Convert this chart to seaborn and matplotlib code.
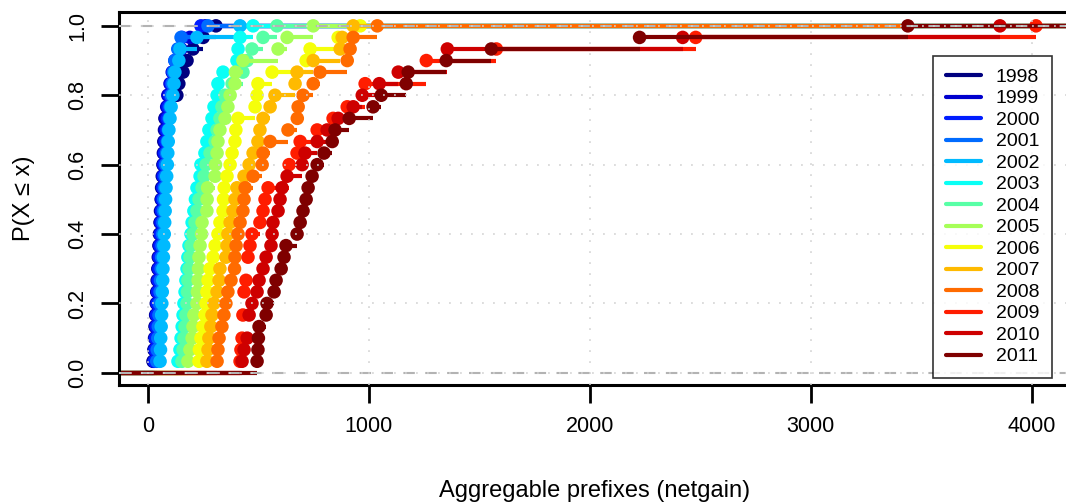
import numpy as np
import pandas as pd
import seaborn as sns
import matplotlib.pyplot as plt
from matplotlib.lines import Line2D

# years and jet-like colours (R colorRampPalette, 14 steps)
years = ['1998', '1999', '2000', '2001', '2002', '2003', '2004',
         '2005', '2006', '2007', '2008', '2009', '2010', '2011']
colors = ['#00007F', '#0000CE', '#001DFF', '#006BFF', '#00BAFF', '#0AFFF5', '#58FFA6',
          '#A6FF58', '#F5FF0A', '#FFBA00', '#FF6B00', '#FF1D00', '#CE0000', '#7F0000']

# aggregable prefixes per sample (30 samples per year)
netgain_1998 = [23, 27, 30, 32, 35, 38, 40, 42, 45, 47, 50, 52, 55, 57, 60,
                62, 65, 68, 70, 72, 75, 77, 95, 131, 140, 159, 177, 204, 250, 308]
netgain_1999 = [27, 30, 32, 35, 37, 40, 42, 45, 47, 50, 52, 55, 57, 60, 62,
                65, 68, 70, 72, 75, 78, 80, 85, 90, 100, 110, 125, 150, 190, 260]
netgain_2000 = [30, 33, 35, 38, 40, 43, 45, 47, 50, 52, 55, 57, 60, 62, 65,
                68, 70, 73, 76, 80, 84, 88, 92, 98, 105, 113, 122, 140, 154, 240]
netgain_2001 = [40, 42, 45, 47, 50, 52, 55, 57, 60, 62, 64, 66, 68, 70, 72,
                75, 78, 80, 84, 88, 92, 96, 100, 105, 110, 115, 122, 135, 150, 272]
netgain_2002 = [55, 57, 58, 60, 62, 63, 65, 67, 68, 70, 72, 74, 76, 78, 80,
                82, 85, 88, 90, 92, 95, 100, 105, 113, 118, 122, 140, 145, 222, 417]
netgain_2003 = [136, 145, 150, 155, 159, 163, 168, 172, 177, 181, 186, 195, 200, 208, 215,
                222, 236, 240, 258, 267, 276, 290, 299, 313, 317, 340, 403, 408, 417, 476]
netgain_2004 = [154, 159, 163, 168, 172, 177, 179, 181, 186, 190, 195, 204, 213, 222, 231,
                245, 254, 263, 281, 304, 313, 326, 335, 349, 381, 430, 449, 471, 521, 584]
netgain_2005 = [181, 190, 200, 204, 208, 222, 224, 227, 229, 231, 236, 243, 245, 267, 268,
                270, 304, 306, 313, 317, 326, 349, 362, 372, 394, 396, 430, 589, 630, 748]
netgain_2006 = [231, 233, 240, 249, 258, 263, 267, 272, 281, 295, 304, 317, 326, 340, 342,
                345, 358, 372, 381, 394, 398, 408, 485, 494, 498, 562, 716, 734, 861, 961]
netgain_2007 = [267, 272, 276, 285, 290, 299, 313, 322, 326, 353, 358, 362, 372, 385, 394,
                403, 435, 458, 476, 498, 507, 521, 553, 575, 666, 675, 748, 870, 879, 929]
netgain_2008 = [313, 317, 322, 335, 344, 353, 362, 376, 392, 394, 399, 408, 417, 430, 435,
                440, 476, 517, 521, 553, 634, 676, 680, 702, 748, 779, 902, 915, 929, 1038]
netgain_2009 = [417, 421, 426, 430, 430, 435, 435, 444, 453, 453, 462, 471, 507, 521, 530,
                544, 639, 639, 675, 689, 766, 838, 902, 983, 983, 1260, 1260, 1577, 2479, 4019]
netgain_2010 = [426, 435, 449, 458, 458, 471, 494, 503, 521, 535, 557, 562, 566, 589, 598,
                607, 630, 698, 711, 766, 811, 861, 929, 970, 1047, 1133, 1355, 1355, 2420, 3856]
netgain_2011 = [494, 498, 500, 503, 535, 539, 571, 580, 603, 616, 625, 675, 689, 702, 716,
                725, 743, 766, 797, 834, 847, 911, 1019, 1056, 1169, 1178, 1350, 1554, 2225, 3439]

series = [netgain_1998, netgain_1999, netgain_2000, netgain_2001, netgain_2002,
          netgain_2003, netgain_2004, netgain_2005, netgain_2006, netgain_2007,
          netgain_2008, netgain_2009, netgain_2010, netgain_2011]

x_ticks = [0, 1000, 2000, 3000, 4000]
y_ticks = [0.0, 0.2, 0.4, 0.6, 0.8, 1.0]

sns.set_style("white")
plt.rcParams['font.family'] = ['Liberation Sans', 'DejaVu Sans']
plt.rcParams['text.color'] = 'black'
plt.rcParams['axes.labelcolor'] = 'black'
plt.rcParams['xtick.color'] = 'black'
plt.rcParams['ytick.color'] = 'black'

fig = plt.figure(figsize=(10.66, 5.03), dpi=100)
ax = fig.add_axes([0.1116, 0.2346, 0.893, 0.7416])
x_lo, x_hi = -131, 4177

# one ecdf per year, drawn like R's plot.ecdf(verticals=FALSE)
for year, color, vals in zip(years, colors, series):
    knots, counts = np.unique(vals, return_counts=True)
    levels = np.cumsum(counts) / len(vals)
    left = np.concatenate([[x_lo - 10000], knots])
    right = np.concatenate([knots, [x_hi + 10000]])
    heights = np.concatenate([[0.0], levels])
    ax.hlines(heights, left, right, color=color, lw=3.0, zorder=2)
    df = pd.DataFrame({'x': knots, 'y': levels})
    sns.scatterplot(data=df, x='x', y='y', color=color, s=95, edgecolor='none',
                    linewidth=0, ax=ax, zorder=2, legend=False)

# grey 0/1 reference lines
for h in [0, 1]:
    ax.axhline(h, color='#B3B3B3', lw=1.5, dashes=(5.5, 5), zorder=3)

# dotted grid on top
for xv in x_ticks:
    ax.axvline(xv, color='#D3D3D3', lw=1.1, dashes=(1.2, 6), zorder=4)
for yv in y_ticks:
    ax.axhline(yv, color='#D3D3D3', lw=1.1, dashes=(1.2, 6), zorder=4)

ax.set_xlim(x_lo, x_hi)
ax.set_ylim(-0.035, 1.04)
ax.set_xticks(x_ticks)
ax.set_xticklabels([str(v) for v in x_ticks])
ax.set_yticks(y_ticks)
ax.set_yticklabels(['%.1f' % v for v in y_ticks], rotation=90, va='center')
ax.tick_params(axis='both', direction='out', length=13, width=2, labelsize=15.5,
               colors='black', pad=9, left=True, bottom=True)
for sp in ax.spines.values():
    sp.set_color('black')
    sp.set_linewidth(2.2)
    sp.set_visible(True)

ax.set_xlabel('Aggregable prefixes (netgain)', fontsize=17, labelpad=31)
ax.set_ylabel('P(X \u2264 x)', fontsize=17, labelpad=23)

handles = [Line2D([0], [0], color=c, lw=3) for c in colors]
leg = ax.legend(handles, years, loc='lower right', bbox_to_anchor=(0.980, 0.019),
                borderaxespad=0, fontsize=14, frameon=True, fancybox=False,
                edgecolor='black', handlelength=1.8, labelspacing=0.2,
                borderpad=0.64, handletextpad=0.77)
leg.get_frame().set_linewidth(1.2)
leg.set_zorder(6)

plt.savefig('out.png', dpi=100)
plt.close()
